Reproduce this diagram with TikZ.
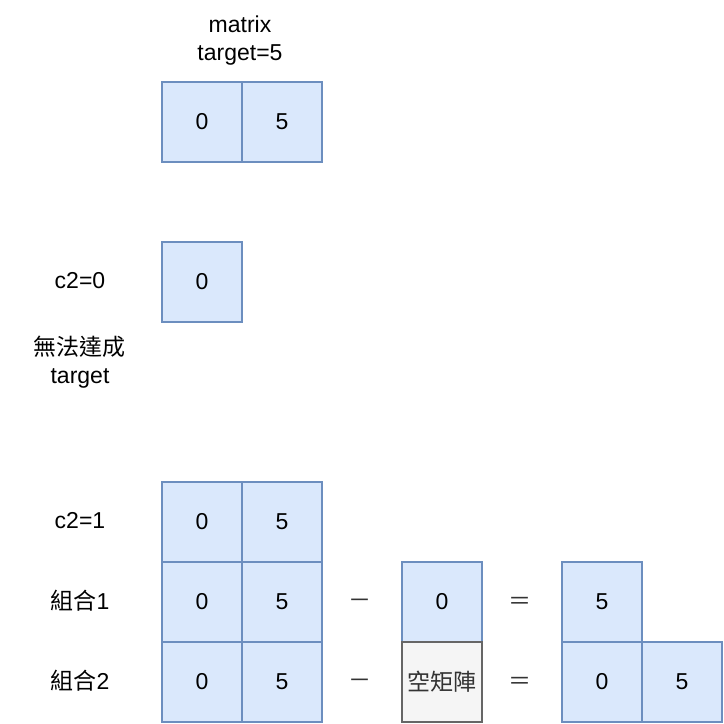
\documentclass[tikz,border=0pt]{standalone}
\usepackage{fontspec}
\setmainfont{Liberation Sans}
\newfontfamily\cjk{Noto Sans CJK TC}
\definecolor{bfill}{HTML}{DAE8FC}
\definecolor{bline}{HTML}{6C8EBF}
\definecolor{gfill}{HTML}{F5F5F5}
\definecolor{gline}{HTML}{666666}
\definecolor{gtext}{HTML}{333333}
\begin{document}
\begin{tikzpicture}[x=1pt,y=-1pt,
  every node/.style={font=\fontsize{23}{28}\selectfont, inner sep=0pt},
  cell/.style={draw=bline, fill=bfill, line width=2pt, minimum width=80pt, minimum height=80pt, anchor=north west},
  gcell/.style={draw=gline, fill=gfill, line width=2pt, minimum width=80pt, minimum height=80pt, anchor=north west, text=gtext},
  lbl/.style={align=center},
  op/.style={font=\cjk\fontsize{23}{28}\selectfont, text=black!80}]
\useasboundingbox (0,0) rectangle (724,724);
% title
\node[lbl] (title) at (240,41) {matrix\\target=5};
% top matrix
\node[cell] (m0) at (161,81) {0};
\node[cell] (m1) at (241,81) {5};
% c2=0
\node[lbl] (lc0) at (80,281) {c2=0};
\node[cell] (a0) at (161,241) {0};
\node[lbl] (fail) at (80,362) {{\cjk 無法達成}\\target};
% c2=1
\node[lbl] (lc1) at (80,521) {c2=1};
\node[cell] (b0) at (161,481) {0};
\node[cell] (b1) at (241,481) {5};
% combo 1
\node[lbl] (lk1) at (80,601) {{\cjk 組合}1};
\node[cell] (c0) at (161,561) {0};
\node[cell] (c1) at (241,561) {5};
\node[op] (cm) at (360,604) {－};
\node[cell] (c2) at (401,561) {0};
\node[op] (ce) at (520,603) {＝};
\node[cell] (c3) at (561,561) {5};
% combo 2
\node[lbl] (lk2) at (80,681) {{\cjk 組合}2};
\node[cell] (d0) at (161,641) {0};
\node[cell] (d1) at (241,641) {5};
\node[op] (dm) at (360,684) {－};
\node[gcell, font=\cjk\fontsize{23}{28}\selectfont] (d2) at (401,641) {空矩陣};
\node[op] (de) at (520,683) {＝};
\node[cell] (d3) at (561,641) {0};
\node[cell] (d4) at (641,641) {5};
\end{tikzpicture}
\end{document}
